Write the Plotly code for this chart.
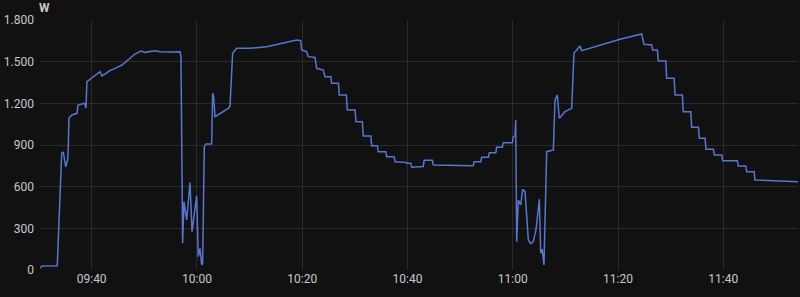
import pandas as pd
import plotly.graph_objects as go

times = [
    "09:30:11", "09:30:33", "09:33:28", "09:33:59", "09:34:18", "09:34:36", "09:35:04", "09:35:26",
    "09:35:33", "09:35:41", "09:36:15", "09:37:13", "09:37:24", "09:38:40", "09:38:55", "09:39:06",
    "09:40:15", "09:41:35", "09:41:58", "09:43:29", "09:44:26", "09:45:46", "09:46:54", "09:48:14",
    "09:49:22", "09:50:08", "09:52:02", "09:52:59", "09:54:53", "09:56:47", "09:56:58", "09:57:17",
    "09:57:32", "09:58:03", "09:58:41", "09:59:04", "09:59:57", "10:00:15", "10:00:35", "10:00:54",
    "10:01:05", "10:01:24", "10:01:43", "10:02:48", "10:02:59", "10:03:10", "10:03:26", "10:04:23",
    "10:05:58", "10:06:17", "10:06:47", "10:07:33", "10:10:05", "10:13:15", "10:16:24", "10:18:57",
    "10:19:43", "10:19:54", "10:20:51", "10:21:09", "10:22:26", "10:22:45", "10:24:00", "10:24:20",
    "10:25:26", "10:25:36", "10:26:53", "10:27:03", "10:28:24", "10:28:34", "10:30:03", "10:30:13",
    "10:31:26", "10:31:36", "10:33:02", "10:33:12", "10:34:17", "10:34:27", "10:35:53", "10:36:03",
    "10:37:28", "10:37:38", "10:39:41", "10:39:51", "10:40:38", "10:40:48", "10:43:00", "10:43:10",
    "10:44:44", "10:44:54", "10:52:30", "10:52:40", "10:53:56", "10:54:06", "10:55:23", "10:55:33",
    "10:56:47", "10:56:57", "10:58:02", "10:58:12", "10:59:56", "11:00:06", "11:00:26", "11:00:34",
    "11:00:45", "11:01:04", "11:01:31", "11:01:53", "11:02:20", "11:02:58", "11:03:25", "11:03:55",
    "11:04:25", "11:05:03", "11:05:19", "11:05:35", "11:05:56", "11:06:27", "11:07:43", "11:08:02",
    "11:08:28", "11:08:51", "11:09:56", "11:11:12", "11:11:38", "11:12:28", "11:12:47", "11:13:06",
    "11:15:18", "11:17:51", "11:20:23", "11:24:30", "11:24:56", "11:26:25", "11:26:35", "11:27:29",
    "11:27:39", "11:29:05", "11:29:15", "11:30:40", "11:30:50", "11:32:14", "11:32:24", "11:33:50",
    "11:34:00", "11:35:17", "11:35:27", "11:36:33", "11:36:43", "11:38:08", "11:38:18", "11:39:43",
    "11:39:53", "11:42:41", "11:42:51", "11:44:17", "11:44:27", "11:45:52", "11:46:02", "11:54:12",
]
watts = [
    12, 29, 30, 626, 840, 850, 744, 792,
    878, 1094, 1116, 1128, 1188, 1200, 1166, 1356,
    1387, 1428, 1397, 1435, 1452, 1476, 1512, 1555,
    1577, 1567, 1579, 1572, 1570, 1572, 1536, 192,
    492, 360, 629, 276, 533, 96, 156, 36,
    48, 888, 907, 907, 1272, 1250, 1104, 1128,
    1164, 1180, 1560, 1596, 1596, 1608, 1637, 1656,
    1651, 1584, 1572, 1536, 1530, 1452, 1440, 1392,
    1392, 1344, 1344, 1260, 1260, 1152, 1152, 1068,
    1068, 965, 965, 895, 895, 852, 852, 816,
    816, 780, 775, 768, 768, 740, 745, 790,
    790, 756, 751, 780, 780, 811, 811, 845,
    845, 883, 883, 917, 917, 960, 965, 1080,
    204, 504, 468, 581, 564, 216, 190, 204,
    290, 509, 120, 150, 36, 852, 864, 1224,
    1260, 1092, 1140, 1164, 1560, 1596, 1613, 1579,
    1601, 1632, 1661, 1699, 1625, 1620, 1584, 1584,
    1505, 1505, 1380, 1380, 1260, 1260, 1140, 1140,
    1027, 1027, 948, 948, 869, 869, 828, 828,
    787, 787, 749, 749, 708, 708, 648, 636,
]
y_ticks = [0, 300, 600, 900, 1200, 1500, 1800]
x_ticks = ["09:40", "10:00", "10:20", "10:40", "11:00", "11:20", "11:40"]

day = "2024-01-01 "
x = pd.to_datetime([day + t for t in times])

fig = go.Figure()
fig.add_trace(go.Scatter(
    x=x, y=watts, mode="lines",
    line=dict(color="#5677cf", width=1.5),
    showlegend=False,
))

grid = "#2a2a2c"
font_col = "#c8c8cc"
fig.update_layout(
    width=800, height=297,
    margin=dict(l=40, r=2, t=20, b=27),
    paper_bgcolor="#111111",
    plot_bgcolor="#111111",
    separators=",.",
    font=dict(family="Roboto, DejaVu Sans, sans-serif", size=12, color=font_col),
    xaxis=dict(
        range=[pd.Timestamp(day + "09:30:11"), pd.Timestamp(day + "11:54:12")],
        tickvals=[pd.Timestamp(day + t) for t in x_ticks],
        ticktext=x_ticks,
        showgrid=True, gridcolor=grid, gridwidth=1,
        zeroline=False, showline=False, ticks="",
        tickfont=dict(size=12, color=font_col),
    ),
    yaxis=dict(
        range=[0, 1800],
        tickvals=y_ticks,
        tickformat=",d",
        showgrid=True, gridcolor=grid, gridwidth=1,
        zeroline=False, showline=False, ticks="",
        ticklabelstandoff=5,
        tickfont=dict(size=12, color=font_col),
    ),
    annotations=[dict(
        text="<b>W</b>", xref="paper", yref="paper", x=0, y=1,
        xanchor="left", yanchor="bottom", xshift=-3, yshift=3,
        showarrow=False, font=dict(size=12, color=font_col),
    )],
)

fig.write_html("out.html")
